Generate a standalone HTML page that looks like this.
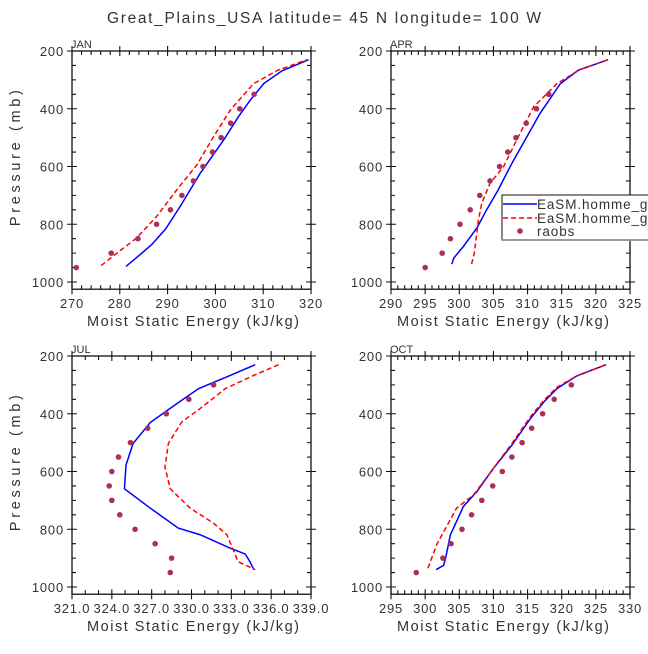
<!DOCTYPE html>
<html><head><meta charset="utf-8"><style>
body{margin:0;background:#fff}
svg text{font-family:"Liberation Sans",sans-serif;fill:#333}
</style></head><body>
<svg id="c" width="648" height="649" viewBox="0 0 648 649" xmlns="http://www.w3.org/2000/svg">
<text x="107" y="23" font-size="15.5" textLength="434" lengthAdjust="spacing">Great_Plains_USA   latitude= 45 N longitude= 100 W</text>
</svg>
<script>
const panelNames=["JAN","APR","JUL","OCT"];
const xMin=[270,290,321,295], xMax=[320,325,339,330], xMajor=[10,5,3,5], xMinor=[2,1,1,1];
const xDecimals=[0,0,1,0];
const janRaobsX=[270.9,278.2,283.8,287.7,290.6,293,295.4,297.4,299.4,301.2,303.2,305.1,308.1];
const aprRaobsX=[295.0,297.5,298.7,300.1,301.6,303.0,304.5,305.9,307.1,308.3,309.8,311.3,313.1];
const raobsP=[950,900,850,800,750,700,650,600,550,500,450,400,350];
const julRaobsX=[328.4,328.5,327.26,325.75,324.6,324.0,323.8,324.0,324.5,325.4,326.7,328.1,329.8,331.66];
const octRaobsX=[298.7,302.6,303.8,305.4,306.8,308.3,309.9,311.3,312.7,314.2,315.6,317.2,318.9,321.4];
const raobsP14=[950,900,850,800,750,700,650,600,550,500,450,400,350,300];
const janBlueX=[281.3,284.2,286.7,289.6,292.6,296.8,301.7,304.8,307.3,310.1,313.9,319.5];
const janBlueP=[946,906,870,816,739,624,509,428,370,313,269,230];
const janRedX=[276.1,279.4,283.5,287.7,291.9,296.1,299.6,303.1,308,313,319.2];
const janRedP=[943,900,848,773,681,595,497,405,313,267,230];
const aprBlueX=[298.9,299.2,300.6,302.6,304.0,305.7,307.7,309.9,311.8,314.8,317.4,321.8];
const aprBlueP=[938,917,877,812,750,681,589,497,417,313,267,230];
const aprRedX=[301.8,302.2,302.5,302.8,303.3,304.5,306.5,308.4,310.9,314.3,317.7,321.8];
const aprRedP=[938,900,843,785,727,658,600,508,393,313,264,230];
const julBlueX=[334.8,332.67,330.53,328.9,326.9,325.6,325.07,324.95,326.9,329.0,330.65,332.9,334.05,334.4,334.7];
const julBlueP=[230,272,313,365,430,503,577,660,727,796,819,865,886,912,940];
const julRedX=[336.56,334.7,332.55,330.65,329.27,328.26,328.0,328.4,329.9,331.66,332.66,333.2,333.5,334.8];
const julRedP=[230,267,313,382,428,503,584,660,727,779,819,877,912,940];
const octBlueX=[301.6,302.7,303.0,303.7,304.6,305.6,307.6,310.0,312.7,315.4,317.4,319.3,322.2,326.5];
const octBlueP=[940,925,900,819,773,721,669,589,509,417,359,313,269,230];
const octRedX=[300.4,301.7,302.9,304.6,307.1,310.0,312.7,315.4,317.4,319.3,322.2,326.5];
const octRedP=[935,853,801,727,681,589,503,411,353,308,269,230];
const yTicks=[200,400,600,800,1000];

const blue=[janBlueX,aprBlueX,julBlueX,octBlueX], blueP=[janBlueP,aprBlueP,julBlueP,octBlueP];
const red=[janRedX,aprRedX,julRedX,octRedX], redP=[janRedP,aprRedP,julRedP,octRedP];
const rx=[janRaobsX,aprRaobsX,julRaobsX,octRaobsX], rp=[raobsP,raobsP,raobsP14,raobsP14];
const boxes=[{l:72,r:311,t:51,tc:193},{l:391,r:630,t:51,tc:503},{l:72,r:311,t:356,tc:193},{l:391,r:630,t:356,tc:503}];
const svg=document.getElementById('c');
const NS="http://www.w3.org/2000/svg";
function mk(tag,attrs,parent){const e=document.createElementNS(NS,tag);for(const k in attrs)e.setAttribute(k,attrs[k]);(parent||svg).appendChild(e);return e;}
boxes.forEach((b,i)=>{
  const g=mk('g',{});
  
  
  const py=231/800, y0=b.t;
  const Y=p=>y0+(p-200)*py;
  const bottom=Y(1025);
  const X=v=>b.l+(v-xMin[i])/(xMax[i]-xMin[i])*(b.r-b.l);
  const frame=mk('rect',{x:b.l,y:b.t,width:b.r-b.l,height:bottom-b.t,fill:'none',stroke:'#111','stroke-width':1.3},g);
  
  
  let tk='';
  const nmin=Math.round((xMax[i]-xMin[i])/xMinor[i]);
  for(let k=0;k<=nmin;k++){const v=xMin[i]+k*xMinor[i];const x=X(v);
    const maj=Math.abs(((v-xMin[i])/xMajor[i])-Math.round((v-xMin[i])/xMajor[i]))<1e-6;
    if(maj){tk+=`M${x},${b.t-5}V${b.t+5}M${x},${bottom-5}V${bottom+5}`;
      const s=v.toFixed(xDecimals[i]);
      const t=mk('text',{x:x,y:bottom+19,'font-size':13,'text-anchor':'middle','letter-spacing':'0.8'},g);t.textContent=s;
      }
    else tk+=`M${x},${b.t}V${b.t+4}M${x},${bottom}V${bottom-4}`;}
  for(let p=200;p<=1000;p+=50){const y=Y(p);
    if(p%200===0){tk+=`M${b.l-5},${y}H${b.l+5}M${b.r-5},${y}H${b.r+5}`;}
    else tk+=`M${b.l},${y}H${b.l+4}M${b.r},${y}H${b.r-4}`;}
  const tp=mk('path',{d:tk,stroke:'#111','stroke-width':1.1,fill:'none'},g);
  
  yTicks.forEach(p=>{const t=mk('text',{x:b.l-8,y:Y(p)+5,'font-size':13,'text-anchor':'end','letter-spacing':'0.8'},g);t.textContent=p;
    });
  const pt=mk('text',{x:b.l-1,y:b.t-3,'font-size':11},g);pt.textContent=panelNames[i];
  
  const xt=mk('text',{x:b.tc-106,y:bottom+37,'font-size':14.5,textLength:212,lengthAdjust:'spacing'},g);xt.textContent='Moist Static Energy (kJ/kg)';
  
  if(i%2===0){const yt=mk('text',{x:0,y:0,'font-size':14.5,'text-anchor':'middle',textLength:136,lengthAdjust:'spacing',transform:`translate(20,${(b.t+bottom)/2-12}) rotate(-90)`},g);yt.textContent='Pressure (mb)';
    }
  const lb=mk('path',{d:blue[i].map((v,k)=>(k?'L':'M')+X(v)+','+Y(blueP[i][k])).join(''),stroke:'#0000ff','stroke-width':1.5,fill:'none'},g);
  
  const lr=mk('path',{d:red[i].map((v,k)=>(k?'L':'M')+X(v)+','+Y(redP[i][k])).join(''),stroke:'#ff0000','stroke-width':1.5,'stroke-dasharray':'5,3',fill:'none'},g);
  
  rx[i].forEach((v,k)=>{const c=mk('circle',{cx:X(v),cy:Y(rp[i][k]),r:2.8,fill:'#a8305c'},g);
    });
});
const lg=mk('g',{});


mk('rect',{x:502,y:195,width:160,height:45,fill:'#fff',stroke:'#111','stroke-width':1},lg);
mk('line',{x1:502,y1:240,x2:648,y2:240,stroke:'#999','stroke-width':2},lg);
mk('line',{x1:503,y1:204,x2:537,y2:204,stroke:'#0000ff','stroke-width':1.5},lg);
mk('line',{x1:503,y1:218,x2:537,y2:218,stroke:'#ff0000','stroke-width':1.5,'stroke-dasharray':'5,3'},lg);
mk('circle',{cx:520,cy:231,r:2.8,fill:'#a8305c'},lg);
[['EaSM.homme_gr',209],['EaSM.homme_gr',223],['raobs',236]].forEach(([s,y])=>{const t=mk('text',{x:537,y:y,'font-size':13.5,'letter-spacing':'0.9'},lg);t.textContent=s;
  });
</script>
</body></html>
